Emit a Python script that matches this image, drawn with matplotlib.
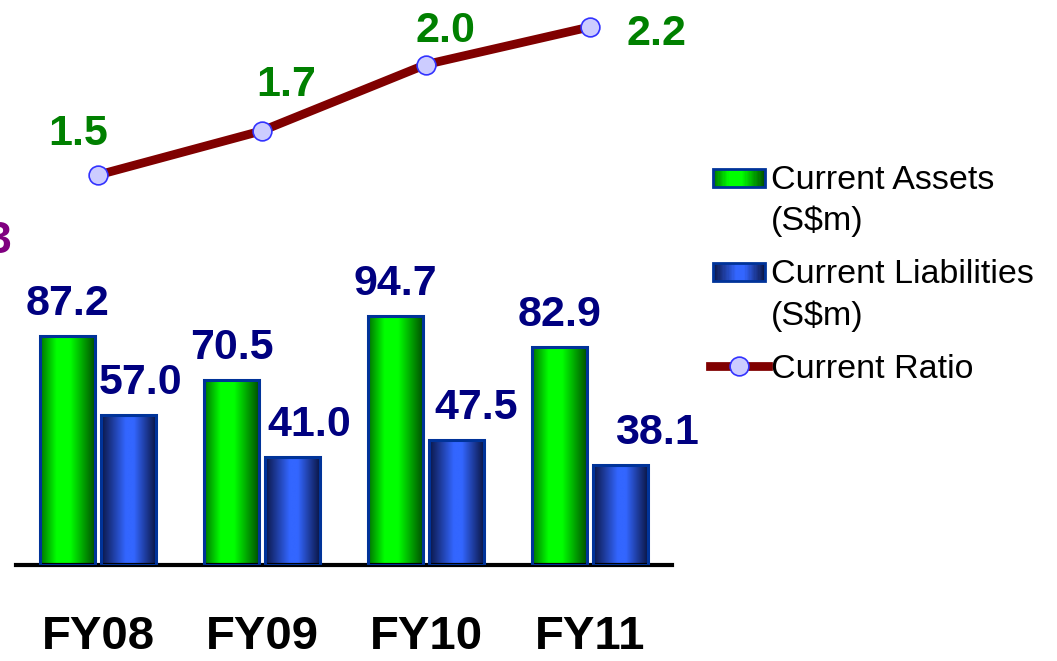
import numpy as np
import matplotlib.pyplot as plt
from matplotlib.colors import LinearSegmentedColormap
from matplotlib.patches import Rectangle
from matplotlib.legend_handler import HandlerBase

plt.rcParams['font.family'] = ['Liberation Sans', 'DejaVu Sans']

# data
YEARS = ['FY08', 'FY09', 'FY10', 'FY11']
CURRENT_ASSETS = [87.2, 70.5, 94.7, 82.9]
CURRENT_LIABILITIES = [57.0, 41.0, 47.5, 38.1]
CURRENT_RATIO = [1.50, 1.70, 2.00, 2.17]

# figure size in pixels, points per pixel
W, H = 1057, 661
PX = 0.72

# label nudges in pixels (x, y)
LIAB_LABEL_DX = [12, 17, 20, 36]
RATIO_LABEL_OFF = [(-20, 30), (24, 35), (19, 22), (67, -18)]

EDGE = '#003399'
GREEN_CMAP = LinearSegmentedColormap.from_list(
    'green_bar', [(0, '#007000'), (0.3, '#00ff00'), (0.55, '#00ff00'), (1, '#005000')])
BLUE_CMAP = LinearSegmentedColormap.from_list(
    'blue_bar', [(0, '#0b1645'), (0.45, '#3366ff'), (0.6, '#3366ff'), (1, '#0b1645')])


def gradient_bars(ax, x, heights, width, cmap):
    """bars with a horizontal shading, like a cylinder"""
    grad = np.linspace(0, 1, 256).reshape(1, -1)
    bars = ax.bar(x, heights, width, facecolor='none', edgecolor=EDGE,
                  linewidth=2.2, zorder=3)
    for rect in bars:
        x0, w, h = rect.get_x(), rect.get_width(), rect.get_height()
        ax.imshow(grad, cmap=cmap, extent=[x0, x0 + w, 0, h], aspect='auto',
                  interpolation='bilinear', zorder=2)
    return bars


class GradientHandler(HandlerBase):
    """legend box drawn as thin colour strips"""
    def __init__(self, cmap, yshift=0.0, inset=2.2, rect_h=13.0):
        super().__init__()
        self.cmap = cmap
        self.yshift = yshift
        self.inset = inset
        self.rect_h = rect_h

    def create_artists(self, legend, orig_handle, xdescent, ydescent,
                       width, height, fontsize, trans):
        x0 = -xdescent + self.inset
        w = width - 2 * self.inset
        y0 = -ydescent + height / 2 - self.rect_h / 2 + self.yshift
        n = 40
        arts = []
        for i in range(n):
            arts.append(Rectangle((x0 + i * w / n, y0), w / n * 1.05, self.rect_h,
                                  facecolor=self.cmap((i + 0.5) / n),
                                  edgecolor='none', transform=trans))
        arts.append(Rectangle((x0, y0), w, self.rect_h, facecolor='none',
                              edgecolor=EDGE, linewidth=2, transform=trans))
        return arts


fig = plt.figure(figsize=(W / 100, H / 100), dpi=100)
ax = fig.add_axes([16 / W, 1 - 565 / H, 656 / W, 565 / H])

x = np.arange(len(YEARS))
bar_w = 0.33
off = 0.186

gradient_bars(ax, x - off, CURRENT_ASSETS, bar_w, GREEN_CMAP)
gradient_bars(ax, x + off, CURRENT_LIABILITIES, bar_w, BLUE_CMAP)

label_kw = dict(textcoords='offset points', ha='center', va='baseline',
                fontsize=31, fontweight='bold', color='#000080')
for i, v in enumerate(CURRENT_ASSETS):
    ax.annotate(f'{v:.1f}', (x[i] - off, v), xytext=(0, 21 * PX), **label_kw)
for i, v in enumerate(CURRENT_LIABILITIES):
    ax.annotate(f'{v:.1f}', (x[i] + off, v), xytext=(LIAB_LABEL_DX[i] * PX, 21 * PX), **label_kw)

ax.set_xlim(-0.5, 3.5)
ax.set_ylim(0, 214.8)
for s in ['top', 'left', 'right']:
    ax.spines[s].set_visible(False)
ax.spines['bottom'].set_linewidth(3)
ax.spines['bottom'].set_color('black')
ax.set_yticks([])
ax.set_xticks(x, YEARS)
ax.tick_params(axis='x', length=0, pad=36)
for t in ax.get_xticklabels():
    t.set_fontsize(34)
    t.set_fontweight('bold')

# current ratio on its own scale
ax2 = ax.twinx()
ratio_line, = ax2.plot(x, CURRENT_RATIO, color='#800000', lw=6.3, marker='o', ms=13.5,
                       mfc='#ccccff', mec='#3333ff', mew=1.2, zorder=4)
for i, v in enumerate(CURRENT_RATIO):
    dx, dy = RATIO_LABEL_OFF[i]
    ax2.annotate(f'{v:.1f}', (x[i], v), xytext=(dx * PX, dy * PX), textcoords='offset points',
                 ha='center', va='baseline', fontsize=31, fontweight='bold', color='#008000')
ax2.set_ylim(1.5 - 390 / 221, 1.5 + 175 / 221)
ax2.set_yticks([])
for s in ax2.spines.values():
    s.set_visible(False)

# cut off text at the left edge
fig.text(-13 / W, 1 - 253 / H, '3', fontsize=32, fontweight='bold', color='#800080',
         ha='left', va='baseline')

assets_proxy = Rectangle((0, 0), 1, 1)
liab_proxy = Rectangle((0, 0), 1, 1)
leg = fig.legend([assets_proxy, liab_proxy, ratio_line],
                 ['Current Assets\n(S\\$m)', 'Current Liabilities\n(S\\$m)', 'Current Ratio'],
                 handler_map={assets_proxy: GradientHandler(GREEN_CMAP, yshift=17),
                              liab_proxy: GradientHandler(BLUE_CMAP, yshift=17)},
                 loc='upper left', bbox_to_anchor=(710 / W, 1 - 165 / H),
                 frameon=False, fontsize=24.5, handlelength=1.7, handletextpad=0.08,
                 labelspacing=0.65, borderpad=0, borderaxespad=0)
for t in leg.get_texts():
    t.set_linespacing(1.4)

plt.savefig('out.png', dpi=100)
plt.close()
